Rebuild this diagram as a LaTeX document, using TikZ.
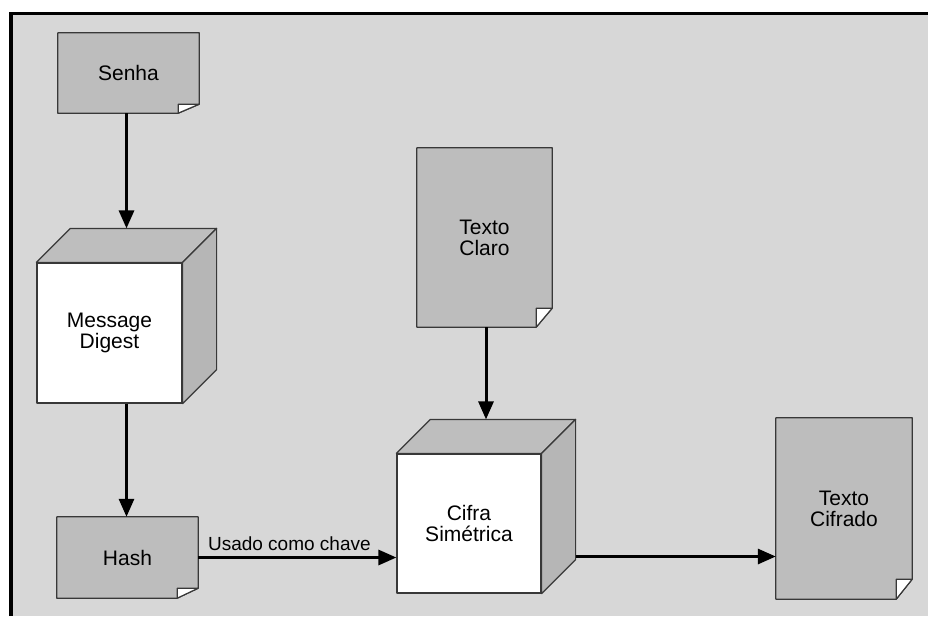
\documentclass[tikz,border=0pt]{standalone}
\usepackage{fontspec}
\setmainfont{Liberation Sans}
\usetikzlibrary{arrows.meta,calc}

\pgfdeclarelayer{back}
\pgfdeclarelayer{shade}
\pgfsetlayers{back,shade,main}

\definecolor{panel}{HTML}{D7D7D7}
\definecolor{paper}{HTML}{BDBDBD}
\definecolor{cubetop}{HTML}{BEBEBE}
\definecolor{cubeside}{HTML}{B6B6B6}
\definecolor{edge}{HTML}{383838}

\tikzset{
  outline/.style={draw=edge, line width=1.2pt, line join=round},
  txt/.style={font=\fontsize{21}{21}\selectfont, align=center, inner sep=0pt},
  sheet/.style={txt},
  cubefront/.style={txt, outline, fill=white},
  conn/.style={line width=3pt, -{Triangle[length=18pt,width=15pt]}},
}

% Sheet of paper with a folded lower right corner, drawn behind node #1
\newcommand\docsheet[3]{%
  \begin{pgfonlayer}{shade}
    \filldraw[outline, fill=paper]
      (#1.north west) -- (#1.north east) -- ([yshift=#3]#1.south east)
      -- ([xshift=-#2]#1.south east) -- (#1.south west) -- cycle;
    \filldraw[outline, fill=white]
      ([xshift=-#2]#1.south east) -- ([xshift=-#2,yshift=#3]#1.south east)
      -- ([yshift=#3]#1.south east) -- cycle;
  \end{pgfonlayer}}

% Top and side faces of a cube whose front face is node #1
\newcommand\cubefaces[1]{%
  \begin{pgfonlayer}{shade}
    \filldraw[outline, fill=cubetop]
      (#1.north west) -- ++(34pt,34pt) -- ([shift={(34pt,34pt)}]#1.north east)
      -- (#1.north east) -- cycle;
    \filldraw[outline, fill=cubeside]
      (#1.north east) -- ++(34pt,34pt) -- ([shift={(34pt,34pt)}]#1.south east)
      -- (#1.south east) -- cycle;
  \end{pgfonlayer}}

\begin{document}
\begin{tikzpicture}[x=1pt, y=-1pt]
  \useasboundingbox (0,0) rectangle (928,616);

  % panel with its frame
  \begin{pgfonlayer}{back}
    \fill[white] (0,0) rectangle (928,616);
    \fill[panel] (11,13.5) rectangle (928,616);
    \draw[line width=3.5pt] (11,616) -- (11,13.5) -- (928,13.5);
  \end{pgfonlayer}

  % sheets
  \node[sheet, minimum width=141pt, minimum height=80pt]  (senha)   at (128.5,73)  {Senha};
  \node[sheet, minimum width=141pt, minimum height=81pt]  (hash)    at (127.5,557.5) {Hash};
  \node[sheet, minimum width=135pt, minimum height=179pt] (claro)   at (484.5,237.5) {Texto\\Claro};
  \node[sheet, minimum width=136pt, minimum height=181pt] (cifrado) at (844,508.5) {Texto\\Cifrado};
  \docsheet{senha}{21}{9}
  \docsheet{hash}{21}{10}
  \docsheet{claro}{16}{19}
  \docsheet{cifrado}{16}{20}

  % cubes
  \node[cubefront, minimum width=145pt, minimum height=140pt] (md)    at (109.5,333)   {Message\\Digest};
  \node[cubefront, minimum width=144pt, minimum height=139pt] (cifra) at (469,523.5)   {Cifra\\Simétrica};
  \cubefaces{md}
  \cubefaces{cifra}

  \coordinate (mdtop)    at ([shift={(17pt,34pt)}]md.north);
  \coordinate (cifratop) at ([shift={(17pt,34pt)}]cifra.north);
  \coordinate (cifraout) at ([shift={(34pt,-33pt)}]cifra.east);

  % connectors
  \draw[conn] (senha.south -| mdtop) -- (mdtop);
  \draw[conn] ([xshift=17pt]md.south) -- ([xshift=17pt]md.south |- hash.north);
  \draw[conn] (hash.east) -- node[pos=0.46, above=5pt, inner sep=0pt,
      font=\fontsize{19}{19}\selectfont] (key) {Usado como chave} (cifra.west |- hash.east);
  \draw[conn] (claro.south -| cifratop) -- (cifratop);
  \draw[conn] (cifraout) -- (cifrado.west |- cifraout);
\end{tikzpicture}
\end{document}
